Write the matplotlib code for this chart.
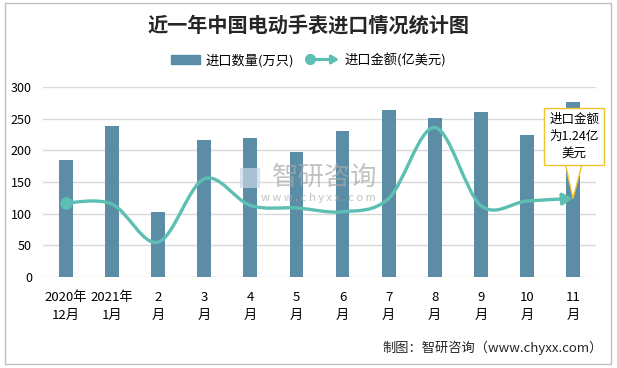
"""
电动手表进口情况统计图 - 柱状图 + 平滑折线
"""

import matplotlib
matplotlib.use("Agg")
from matplotlib import pyplot as plt
from matplotlib.path import Path
from matplotlib.patches import FancyArrowPatch, Rectangle, Patch
from matplotlib.lines import Line2D
from matplotlib.legend_handler import HandlerBase

plt.rcParams["font.family"] = ["Noto Sans CJK SC", "DejaVu Sans"]

# 数据
months = ["2020年\n12月", "2021年\n1月", "2\n月", "3\n月", "4\n月", "5\n月",
          "6\n月", "7\n月", "8\n月", "9\n月", "10\n月", "11\n月"]
quantity = [185, 239, 103, 217, 220, 198, 231, 264, 251, 261, 224, 276]   # 万只
amount = [117, 115, 55, 155, 113, 109, 103, 124, 236, 113, 120, 124]      # 亿美元 x100

bar_color = "#5b8ea6"
line_color = "#5dbfb3"


def smooth_path(xs, ys):
    # Excel 风格的平滑曲线：分段三次贝塞尔
    n = len(xs)
    verts = [(xs[0], ys[0])]
    codes = [Path.MOVETO]
    for i in range(n - 1):
        x0, y0 = (xs[i - 1], ys[i - 1]) if i > 0 else (xs[i], ys[i])
        x3, y3 = (xs[i + 2], ys[i + 2]) if i + 2 < n else (xs[i + 1], ys[i + 1])
        c1 = (xs[i] + (xs[i + 1] - x0) / 6, ys[i] + (ys[i + 1] - y0) / 6)
        c2 = (xs[i + 1] - (x3 - xs[i]) / 6, ys[i + 1] - (y3 - ys[i]) / 6)
        verts += [c1, c2, (xs[i + 1], ys[i + 1])]
        codes += [Path.CURVE4] * 3
    return Path(verts, codes)


class ArrowLineHandler(HandlerBase):
    # 图例：左边圆点，右边箭头
    def create_artists(self, legend, orig_handle, xdescent, ydescent,
                       width, height, fontsize, trans):
        y = height / 2 - ydescent
        arrow = FancyArrowPatch((-xdescent, y), (width - xdescent, y),
                                arrowstyle="-|>,head_length=4,head_width=2.5",
                                color=line_color, lw=2.2, transform=trans,
                                shrinkA=0, shrinkB=0)
        dot = Line2D([-xdescent], [y], marker="o", ms=7, color=line_color,
                     transform=trans)
        return [arrow, dot]


fig = plt.figure(figsize=(6.17, 3.68), dpi=100)
ax = fig.add_axes([43 / 617, (368 - 277) / 368, (596 - 43) / 617, 190 / 368])

x = list(range(len(months)))
ax.bar(x, quantity, width=0.3, color=bar_color, zorder=2)

# 平滑折线 + 结尾箭头
curve = FancyArrowPatch(path=smooth_path(x, amount),
                        arrowstyle="-|>,head_length=6,head_width=3.5",
                        color=line_color, lw=2.4, zorder=3)
ax.add_patch(curve)
ax.plot([x[0]], [amount[0]], marker="o", ms=8, color=line_color, zorder=4)

ax.set_xlim(-0.5, len(months) - 0.5)
ax.set_ylim(0, 300)
ax.set_yticks(range(0, 301, 50))
ax.set_xticks(x)
ax.set_xticklabels(months, fontsize=9.5, linespacing=1.5)
ax.tick_params(axis="y", labelsize=9, length=0, pad=8)
ax.tick_params(axis="x", length=0, pad=10)
ax.grid(axis="y", color="#d9d9d9", lw=1, zorder=0)
for s in ax.spines.values():
    s.set_visible(False)

# 标注
ax.annotate("进口金额\n为1.24亿\n美元", xy=(x[-1], amount[-1]),
            xytext=(1, 28), textcoords="offset points",
            ha="center", va="bottom", fontsize=9, linespacing=1.4,
            bbox=dict(boxstyle="square,pad=0.4", fc="white", ec="#f2c230", lw=1),
            arrowprops=dict(arrowstyle="wedge,tail_width=1.3", fc="white",
                            ec="#f2c230", lw=1, shrinkA=0, shrinkB=0),
            zorder=5)

# 水印
fig.text(325 / 617, 1 - 177 / 368, "智研咨询", fontsize=19, color="#a8a8a8",
         alpha=0.7, ha="center", va="center")
fig.text(318 / 617, 1 - 198 / 368, "w w w . c h y x x . c o m", fontsize=8,
         color="#a8a8a8", alpha=0.7, ha="center", va="center")
fig.patches.append(Rectangle((240 / 617, 1 - 188 / 368), 20 / 617, 20 / 368,
                             transform=fig.transFigure, fc="#c9d8ea",
                             ec="none", alpha=0.7, zorder=1))

# 标题与图例
fig.text(0.5, 1 - 25 / 368, "近一年中国电动手表进口情况统计图", fontsize=14.5,
         fontweight="bold", color="#262626", ha="center", va="center")
handles = [Patch(color=bar_color), Line2D([], [])]
fig.legend(handles, ["进口数量(万只)", "进口金额(亿美元)"],
           handler_map={Line2D: ArrowLineHandler()},
           loc="center", bbox_to_anchor=(0.5, 1 - 60 / 368), ncol=2,
           frameon=False, fontsize=9.5, handlelength=2.2, handleheight=0.7,
           columnspacing=1.2, handletextpad=0.4)

fig.text(603 / 617, 1 - 348 / 368, "制图：智研咨询（www.chyxx.com）",
         fontsize=9.5, color="#262626", ha="right", va="center")

fig.patches.append(Rectangle((5 / 617, 4 / 368), 606 / 617, 361 / 368,
                             transform=fig.transFigure, fill=False,
                             ec="#bfbfbf", lw=1))

fig.savefig("out.png", dpi=100)
